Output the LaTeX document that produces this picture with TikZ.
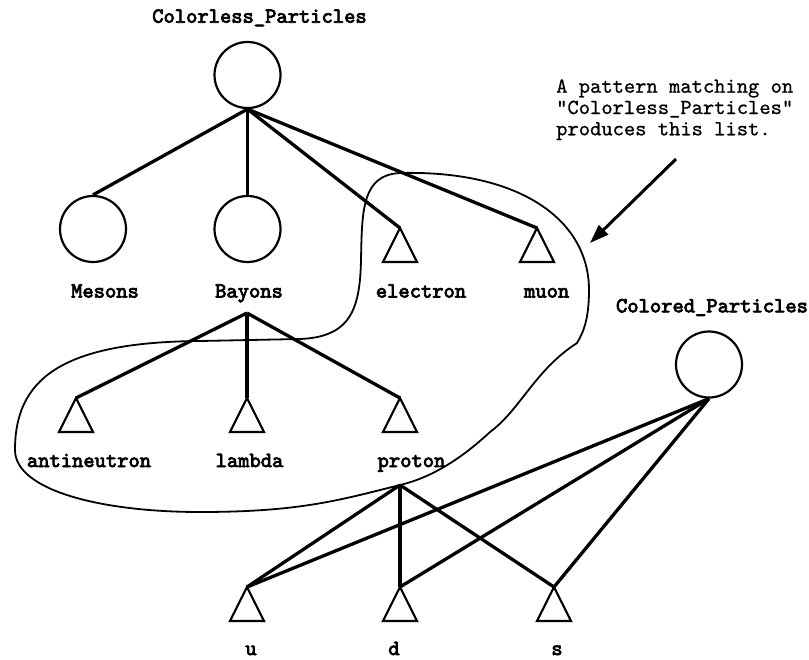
\documentclass[tikz,border=0pt]{standalone}
\usepackage{fontspec}
\newfontfamily\lmbold{lmmono10-regular.otf}[FakeBold=3.5]
\newfontfamily\lmreg{lmmono10-regular.otf}[FakeBold=0.8]
\usetikzlibrary{arrows.meta}
\begin{document}
\begin{tikzpicture}[x=1pt,y=-1pt,
  circ/.style={draw, circle, line width=2.2pt, minimum size=66pt, inner sep=0pt},
  edge/.style={line width=3.3pt},
  tri/.style={line width=2.2pt, line join=miter},
  lbl/.style={font=\lmbold\fontsize{21.5}{24}\selectfont, inner sep=0pt, anchor=base},
  note/.style={font=\lmreg\fontsize{21.5}{21.3}\selectfont, inner sep=0pt, align=left},
  lasso/.style={line width=1.8pt},
  pointer/.style={line width=3pt, -{Triangle[length=19pt,width=13pt]}}]
\useasboundingbox (0,0) rectangle (809,659);
% circles
\node[circ] (cp) at (247.5,75) {};
\node[circ] (mes) at (93,229) {};
\node[circ] (bay) at (247.5,229) {};
\node[circ] (col) at (709,364.5) {};
% triangle apexes
\coordinate (el) at (400,228);
\coordinate (mu) at (537,228);
\coordinate (an) at (76,398);
\coordinate (la) at (247,398);
\coordinate (pr) at (400,398);
\coordinate (u) at (247,587);
\coordinate (d) at (400,587);
\coordinate (s) at (554,587);
\foreach \t in {el,mu,an,la,pr,u,d,s}
  \draw[tri] (\t) -- ++(-17,34) -- ++(34,0) -- cycle;
% branch points
\coordinate (bayB) at (247,313);
\coordinate (proB) at (400,485);
% labels
\node[lbl] (lcp) at (259.5,22.7) {Colorless\_Particles};
\node[lbl] (lmes) at (105,297.5) {Mesons};
\node[lbl] (lbay) at (249,297.5) {Bayons};
\node[lbl] (lel) at (421,297.5) {electron};
\node[lbl] (lmu) at (546.7,297.5) {muon};
\node[lbl] (lcol) at (712,312.3) {Colored\_Particles};
\node[lbl] (lan) at (89,467) {antineutron};
\node[lbl] (lla) at (249.5,467) {lambda};
\node[lbl] (lpr) at (411.5,467) {proton};
\node[lbl] (lu) at (251,655) {u};
\node[lbl] (ld) at (394,655) {d};
\node[lbl] (ls) at (557,655) {s};
% edges
\draw[edge] (cp.south) -- (mes.north);
\draw[edge] (cp.south) -- (bay.north);
\draw[edge] (cp.south) -- (el);
\draw[edge] (cp.south) -- (mu);
\draw[edge] (bayB) -- (an);
\draw[edge] (bayB) -- (la);
\draw[edge] (bayB) -- (pr);
\draw[edge] (proB) -- (u);
\draw[edge] (proB) -- (d);
\draw[edge] (proB) -- (s);
\draw[edge] (col.south) -- (u);
\draw[edge] (col.south) -- (d);
\draw[edge] (col.south) -- (s);
% lasso
\draw[lasso] (400,173) .. controls (520,170) and (589,220) .. (589,290)
  .. controls (589,315) and (585,330) .. (577,343)
  .. controls (535,370) and (520,410) .. (490,432)
  .. controls (460,460) and (430,478) .. (400,485)
  .. controls (340,500) and (300,512) .. (200,512)
  .. controls (100,512) and (15,490) .. (15,450)
  .. controls (15,380) and (60,342) .. (200,341)
  -- (300,339)
  .. controls (350,337) and (360,310) .. (361,260)
  .. controls (362,210) and (362,175) .. (400,173) -- cycle;
% annotation
\node[note, anchor=base west] (note) at (556,135.3) {A pattern matching on\\"Colorless\_Particles"\\produces this list.};
\coordinate (arrS) at (676,159);
\coordinate (arrE) at (590,243);
\draw[pointer] (arrS) -- (arrE);
\end{tikzpicture}
\end{document}
